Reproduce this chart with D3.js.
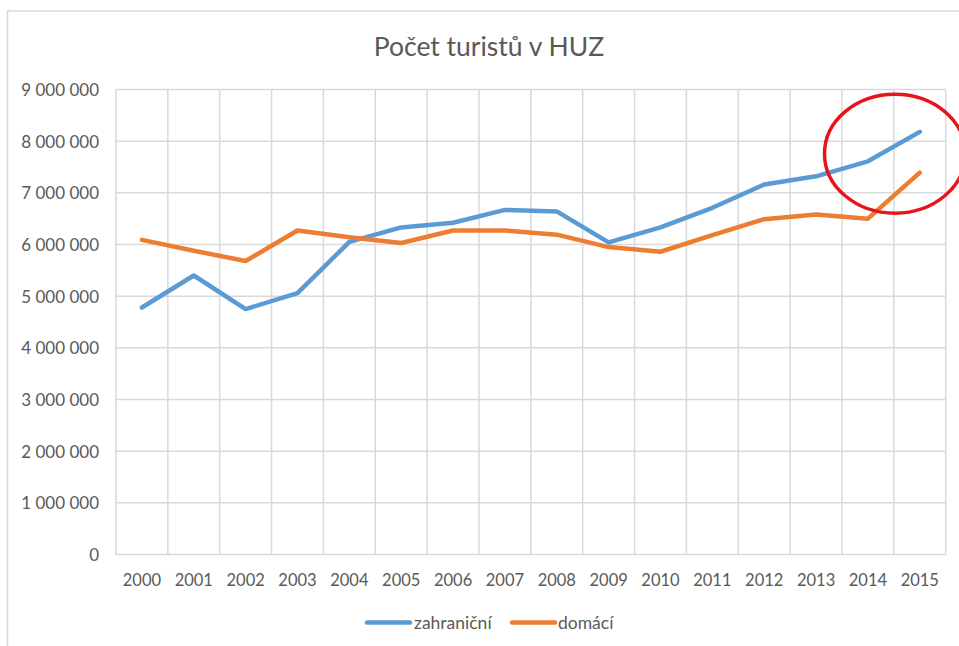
<!DOCTYPE html>
<html>
<head>
<meta charset="utf-8">
<script src="https://cdn.jsdelivr.net/npm/d3@7"></script>
<style>
  html, body { margin: 0; padding: 0; background: #fff; }
  svg { display: block; }
  text { font-family: Lato, "Open Sans", sans-serif; fill: #595959; }
</style>
</head>
<body>
<svg id="chart" width="959" height="646"></svg>
<script>
const title = "Počet turistů v HUZ";
const years = ["2000","2001","2002","2003","2004","2005","2006","2007","2008","2009","2010","2011","2012","2013","2014","2015"];
const zahranicni = [4780000,5400000,4750000,5060000,6050000,6330000,6420000,6670000,6640000,6040000,6330000,6710000,7160000,7320000,7610000,8180000];
const domaci = [6090000,5880000,5680000,6270000,6140000,6030000,6270000,6270000,6190000,5950000,5860000,6180000,6490000,6580000,6500000,7390000];
const yTicks = [0,1000000,2000000,3000000,4000000,5000000,6000000,7000000,8000000,9000000];
const seriesNames = ["zahraniční","domácí"];
const seriesColors = ["#5B9BD5","#ED7D31"];

const svg = d3.select("#chart");
const plotLeft = 116, plotRight = 945.7, plotTop = 89.5, plotBottom = 554.5;

// outer frame
svg.append("rect").attr("x",7.5).attr("y",11).attr("width",964).attr("height",650)
  .attr("fill","none").attr("stroke","#d9d9d9").attr("stroke-width",1.5);

const x = d3.scaleBand().domain(years).range([plotLeft,plotRight]).padding(0);
const y = d3.scaleLinear().domain([0,9000000]).range([plotBottom,plotTop]);

// horizontal gridlines
svg.append("g").selectAll("line").data(yTicks).join("line")
  .attr("x1",plotLeft).attr("x2",plotRight)
  .attr("y1",d=>y(d)).attr("y2",d=>y(d))
  .attr("stroke","#d9d9d9").attr("stroke-width",1.5);
// vertical gridlines at band boundaries
const bounds = years.map(d=>x(d)).concat([plotRight]);
svg.append("g").selectAll("line").data(bounds).join("line")
  .attr("x1",d=>d).attr("x2",d=>d)
  .attr("y1",plotTop).attr("y2",plotBottom)
  .attr("stroke","#d9d9d9").attr("stroke-width",1.5);

// y axis labels
const fmt = d => d3.format(",")(d).replace(/,/g," ");
const yAxis = d3.axisLeft(y).tickValues(yTicks).tickFormat(fmt).tickSize(0).tickPadding(17);
const gy = svg.append("g").attr("transform",`translate(${plotLeft},0)`).call(yAxis);
gy.select(".domain").remove();
gy.selectAll("text").style("font-size","17px").style("font-family","Lato, sans-serif").attr("fill","#595959").attr("dy","0.35em");

// x axis labels
const xAxis = d3.axisBottom(x).tickSize(0).tickPadding(0);
const gx = svg.append("g").attr("transform",`translate(0,${plotBottom})`).call(xAxis);
gx.select(".domain").remove();
gx.selectAll("text").style("font-size","16.5px").style("font-family","Lato, sans-serif").attr("fill","#595959").attr("y",26).attr("dy","0.35em");

// lines
const line = d3.line().x((d,i)=>x(years[i])+x.bandwidth()/2).y(d=>y(d));
[zahranicni, domaci].forEach((s,i)=>{
  svg.append("path").datum(s).attr("d",line)
    .attr("fill","none").attr("stroke",seriesColors[i]).attr("stroke-width",4.5)
    .attr("stroke-linejoin","round").attr("stroke-linecap","round");
});

// title
svg.append("text").attr("x",489).attr("y",56).attr("text-anchor","middle")
  .style("font-size","26.5px").text(title);

// legend
const legendY = 622.5;
const legendItems = [{x0:367, x1:410, tx:414},{x0:512, x1:555, tx:558}];
legendItems.forEach((it,i)=>{
  svg.append("line").attr("x1",it.x0).attr("x2",it.x1).attr("y1",legendY).attr("y2",legendY)
    .attr("stroke",seriesColors[i]).attr("stroke-width",4.5).attr("stroke-linecap","round");
  svg.append("text").attr("x",it.tx).attr("y",legendY).attr("dy","0.35em")
    .style("font-size","17.5px").text(seriesNames[i]);
});

// red highlight ellipse
svg.append("ellipse").attr("cx",895).attr("cy",153.7).attr("rx",70.5).attr("ry",59.5)
  .attr("fill","none").attr("stroke","#E8141C").attr("stroke-width",3.5);
</script>
</body>
</html>
